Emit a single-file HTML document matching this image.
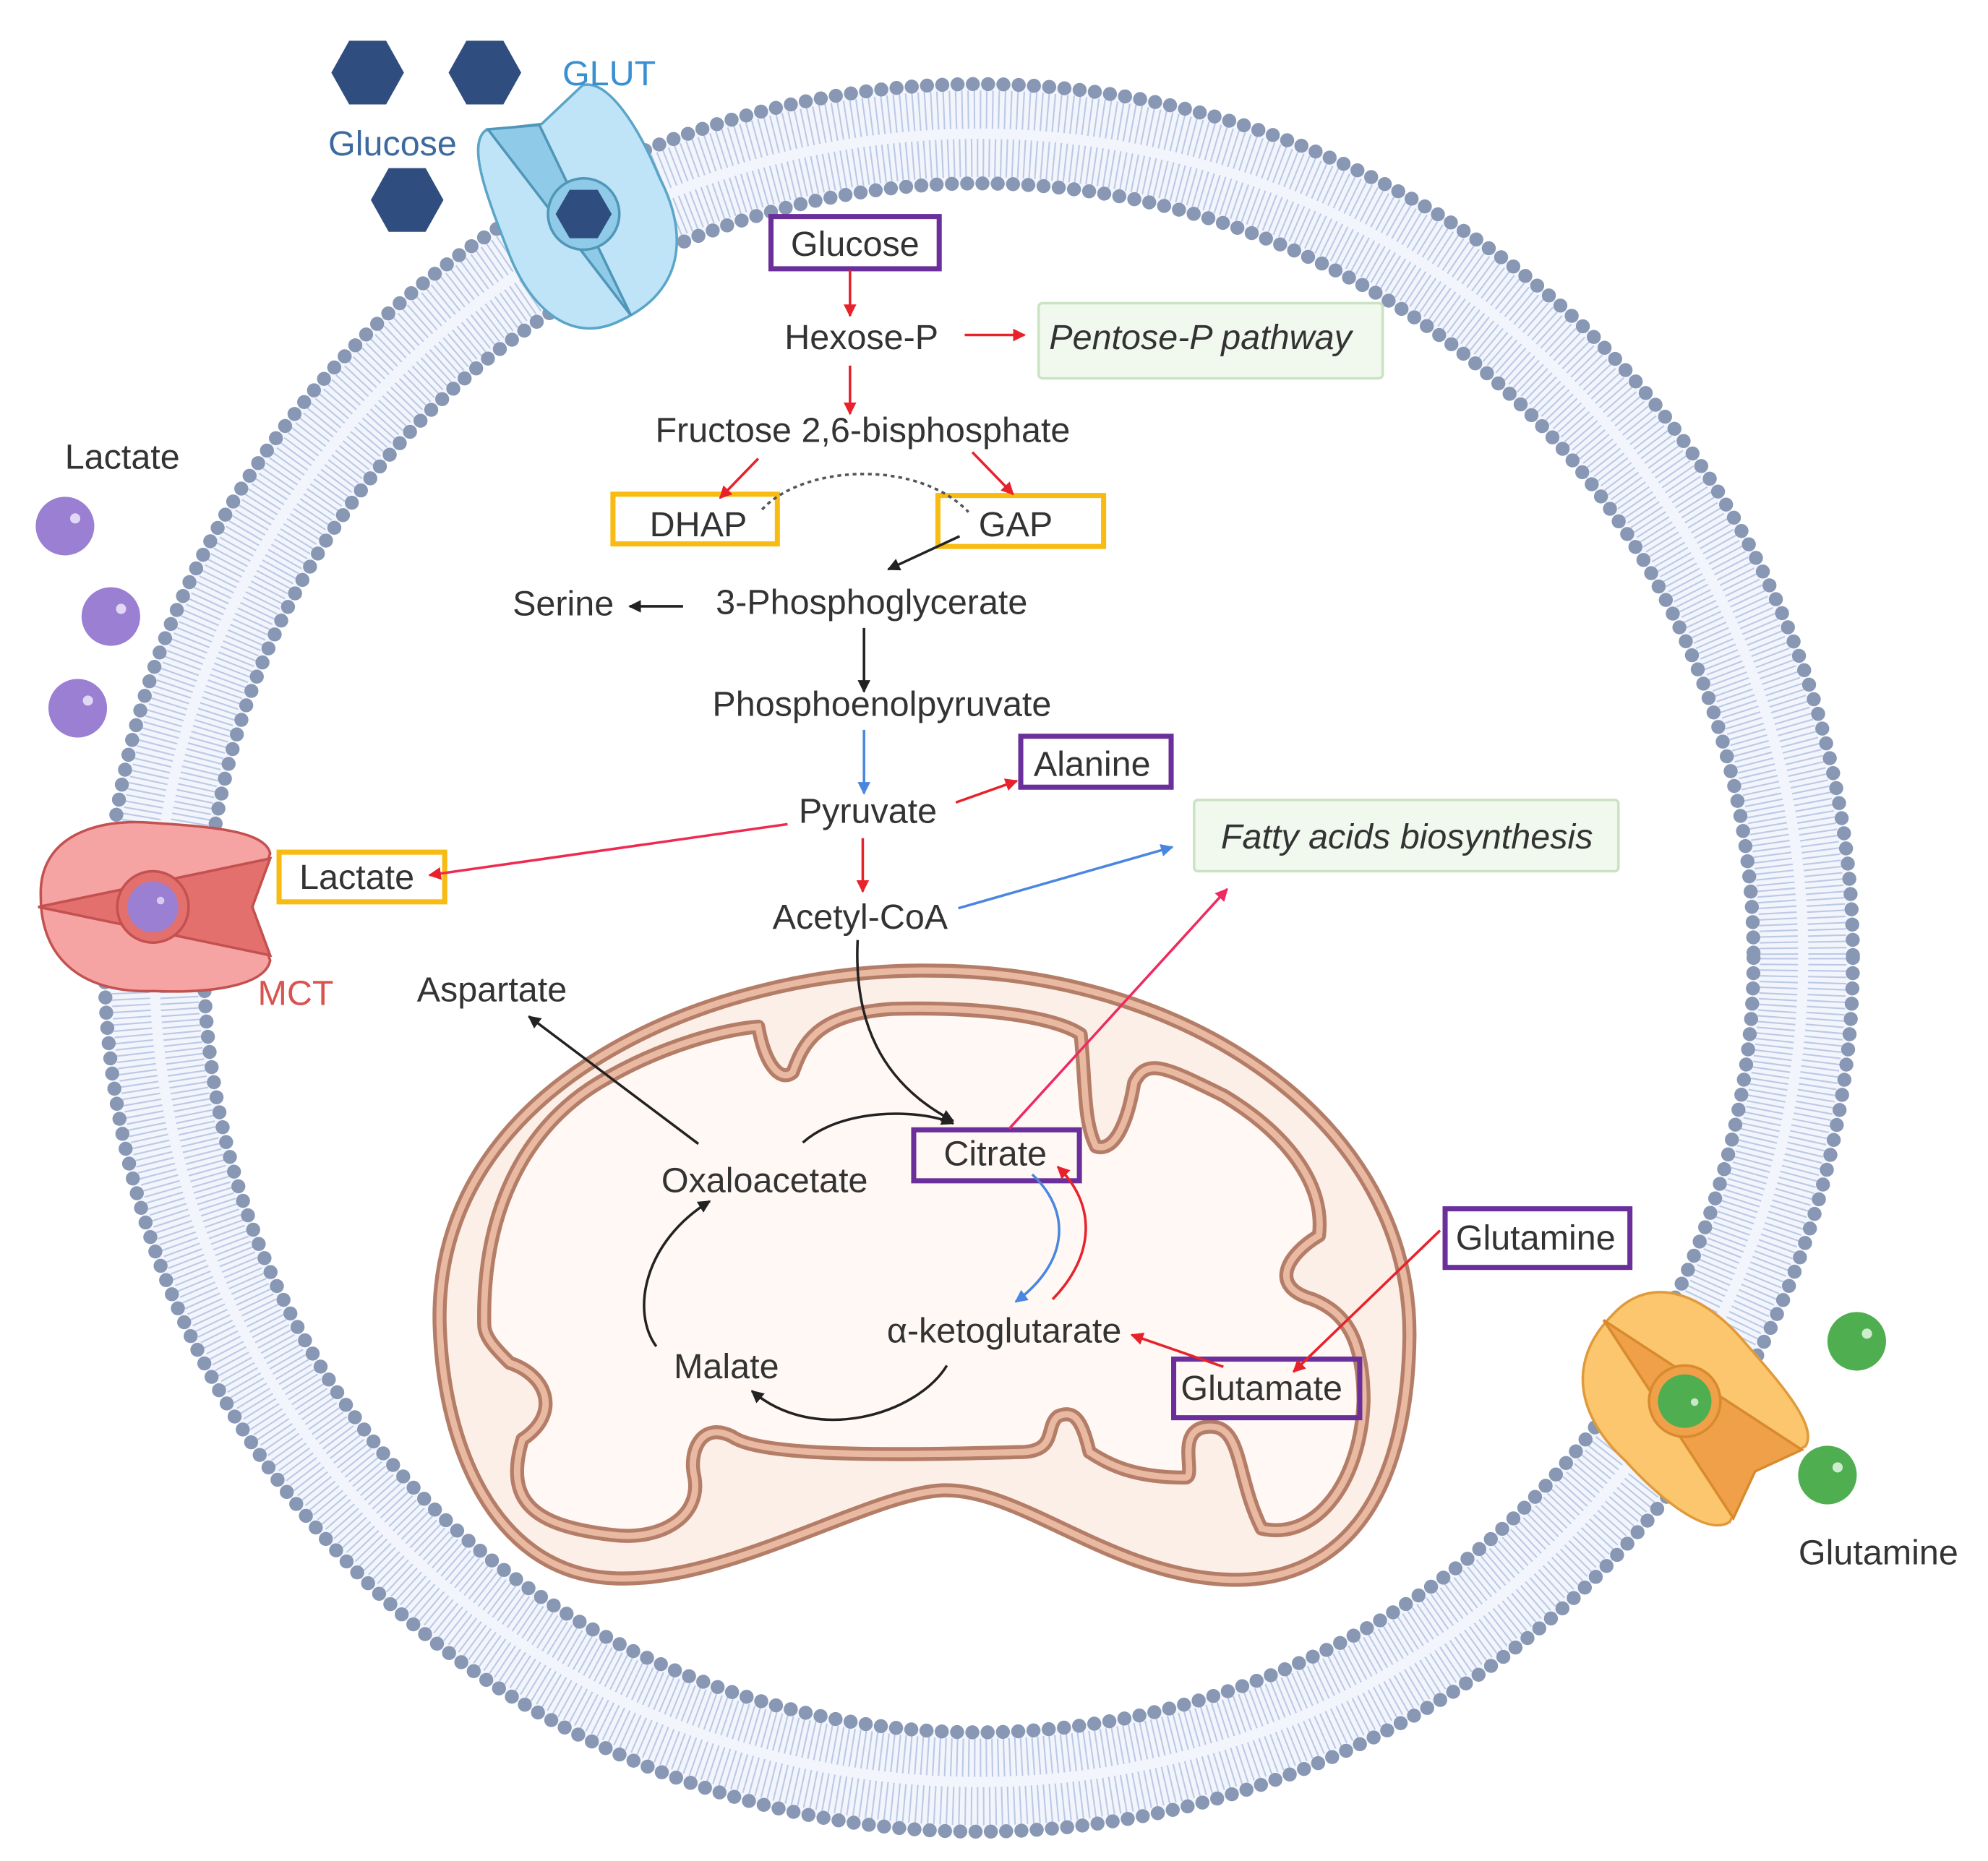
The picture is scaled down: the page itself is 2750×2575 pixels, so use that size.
<!DOCTYPE html>
<html><head><meta charset="utf-8"><style>
html,body{margin:0;padding:0;background:#fff;}
svg{display:block;}
text{font-family:"Liberation Sans",sans-serif;font-size:27.5px;fill:#333;}
</style></head><body>
<svg width="2750" height="2575" viewBox="0 0 1560 1461" preserveAspectRatio="none" xmlns="http://www.w3.org/2000/svg">
<defs>
<marker id="ar" viewBox="0 0 10 10" refX="9" refY="5" markerWidth="5" markerHeight="5" orient="auto"><path d="M0,0 L10,5 L0,10 z" fill="#e8212a"/></marker>
<marker id="ak" viewBox="0 0 10 10" refX="9" refY="5" markerWidth="5" markerHeight="5" orient="auto"><path d="M0,0 L10,5 L0,10 z" fill="#222"/></marker>
<marker id="ab" viewBox="0 0 10 10" refX="9" refY="5" markerWidth="5" markerHeight="5" orient="auto"><path d="M0,0 L10,5 L0,10 z" fill="#4a86e0"/></marker>
<marker id="ap" viewBox="0 0 10 10" refX="9" refY="5" markerWidth="5" markerHeight="5" orient="auto"><path d="M0,0 L10,5 L0,10 z" fill="#ee2a60"/></marker>
<g id="tp">
<path d="M-88,-8 C-90,-55 -45,-70 0,-66 C45,-63 88,-60 92,-42 L78,0 L92,42 C88,62 45,68 0,66 C-50,68 -88,45 -88,-8 Z"/>
</g>
</defs>
<!-- cell membrane -->
<circle cx="768" cy="752" r="647" fill="none" stroke="#f2f5fb" stroke-width="80"/>
<circle cx="768" cy="752" r="666" fill="none" stroke="#bcc9e6" stroke-width="30" stroke-dasharray="1.2 3.6"/>
<circle cx="768" cy="752" r="628" fill="none" stroke="#bcc9e6" stroke-width="30" stroke-dasharray="1.2 3.4"/>
<circle cx="768" cy="752" r="686" fill="none" stroke="#8797b4" stroke-width="11" stroke-linecap="round" stroke-dasharray="0 12"/>
<circle cx="768" cy="752" r="608" fill="none" stroke="#8797b4" stroke-width="11" stroke-linecap="round" stroke-dasharray="0 12"/>

<!-- mitochondrion -->
<path d="M345,1040 C340,850 560,760 730,762 C930,762 1108,880 1106,1050 C1104,1180 1050,1245 960,1240 C870,1235 800,1168 740,1170 C680,1172 560,1250 470,1238 C390,1228 348,1140 345,1040 Z" fill="#fcefe8" stroke="#b47d68" stroke-width="11"/>
<path d="M345,1040 C340,850 560,760 730,762 C930,762 1108,880 1106,1050 C1104,1180 1050,1245 960,1240 C870,1235 800,1168 740,1170 C680,1172 560,1250 470,1238 C390,1228 348,1140 345,1040 Z" fill="none" stroke="#e9b9a2" stroke-width="5"/>
<path d="M380,1040 C378,940 420,880 470,850 C520,820 570,808 595,806 C600,835 612,850 622,842 C630,820 640,796 700,792 C780,790 830,800 848,812 C852,850 850,880 860,900 C875,905 885,880 890,850 C900,830 915,838 960,860 C1010,890 1040,930 1035,970 C1010,985 995,1010 1030,1020 C1055,1030 1070,1050 1070,1100 C1068,1160 1035,1210 990,1200 C970,1160 975,1120 950,1120 C920,1120 940,1160 930,1160 C890,1160 870,1150 855,1140 C850,1120 845,1105 830,1112 C820,1120 830,1140 800,1140 C720,1142 600,1145 575,1128 C550,1115 540,1140 545,1160 C550,1190 520,1210 480,1205 C420,1198 395,1180 410,1130 C440,1110 430,1080 400,1070 C390,1060 380,1050 380,1040 Z" fill="#fff8f5" stroke="#b47d68" stroke-width="11" stroke-linejoin="round"/>
<path d="M380,1040 C378,940 420,880 470,850 C520,820 570,808 595,806 C600,835 612,850 622,842 C630,820 640,796 700,792 C780,790 830,800 848,812 C852,850 850,880 860,900 C875,905 885,880 890,850 C900,830 915,838 960,860 C1010,890 1040,930 1035,970 C1010,985 995,1010 1030,1020 C1055,1030 1070,1050 1070,1100 C1068,1160 1035,1210 990,1200 C970,1160 975,1120 950,1120 C920,1120 940,1160 930,1160 C890,1160 870,1150 855,1140 C850,1120 845,1105 830,1112 C820,1120 830,1140 800,1140 C720,1142 600,1145 575,1128 C550,1115 540,1140 545,1160 C550,1190 520,1210 480,1205 C420,1198 395,1180 410,1130 C440,1110 430,1080 400,1070 C390,1060 380,1050 380,1040 Z" fill="none" stroke="#e9b9a2" stroke-width="5"/>

<!-- transporters -->
<g transform="translate(458,168) rotate(-115)">
<use href="#tp" fill="#bfe4f7" stroke="#5aa5c8" stroke-width="2"/>
<path d="M-88,0 L78,-2 L92,-40 L-88,0 Z" fill="#8fcbe8" stroke="#4f96b8" stroke-width="2"/>
<circle r="28" fill="#8fcbe8" stroke="#4f96b8" stroke-width="2"/>
<polygon points="22,0 11,19 -11,19 -22,0 -11,-19 11,-19" fill="#2f4d7e" transform="rotate(115)"/>
</g>
<g transform="translate(120,712)">
<use href="#tp" fill="#f6a3a3" stroke="#c2514f" stroke-width="2"/>
<path d="M-90,0 L92,-38 L78,0 L92,38 Z" fill="#e4706e" stroke="#c2514f" stroke-width="2"/>
<circle r="28" fill="#e4706e" stroke="#c2514f" stroke-width="2"/>
<circle r="20" fill="#9a7fd3"/><circle cx="6" cy="-5" r="3" fill="#d6ccf0"/>
</g>
<g transform="translate(1322,1100) rotate(45)">
<use href="#tp" fill="#fcc66e" stroke="#e09a3a" stroke-width="2"/>
<path d="M-90,0 L92,-38 L78,0 L92,38 Z" fill="#efa049" stroke="#d88a2e" stroke-width="2"/>
<circle r="28" fill="#efa049" stroke="#d88a2e" stroke-width="2"/>
<circle r="21" fill="#4fae4f"/><circle cx="6" cy="-5" r="3" fill="#c8e8c8"/>
</g>

<!-- glucose hexagons -->
<g fill="#2f4d7e">
<polygon points="317,57 303,82 274,82 260,57 274,32 303,32"/>
<polygon points="409,57 395,82 366,82 352,57 366,32 395,32"/>
<polygon points="348,157 334,182 305,182 291,157 305,132 334,132"/>
</g>
<g fill="#9a7fd3"><circle cx="51" cy="413" r="23"/><circle cx="87" cy="484" r="23"/><circle cx="61" cy="556" r="23"/></g>
<g fill="#e0d8f5"><circle cx="59" cy="407" r="4"/><circle cx="95" cy="478" r="4"/><circle cx="69" cy="550" r="4"/></g>
<g fill="#4fae4f"><circle cx="1457" cy="1053" r="23"/><circle cx="1434" cy="1158" r="23"/></g>
<g fill="#d0ecd0"><circle cx="1465" cy="1047" r="4"/><circle cx="1442" cy="1152" r="4"/></g>

<text x="478" y="67" text-anchor="middle" style="fill:#3a8fd0">GLUT</text>
<text x="308" y="122" text-anchor="middle" style="fill:#3d6a9e">Glucose</text>
<text x="96" y="368" text-anchor="middle">Lactate</text>
<text x="232" y="789" text-anchor="middle" style="fill:#d9534f">MCT</text>
<text x="1474" y="1228" text-anchor="middle">Glutamine</text>

<g fill="none" stroke-width="4">
<rect x="605" y="170" width="132" height="41" stroke="#6a2f9a"/>
<rect x="801" y="578" width="118" height="40" stroke="#6a2f9a"/>
<rect x="717" y="887" width="130" height="40" stroke="#6a2f9a"/>
<rect x="1134" y="949" width="145" height="46" stroke="#6a2f9a"/>
<rect x="921" y="1067" width="146" height="46" stroke="#6a2f9a"/>
<rect x="481" y="388" width="129" height="39" stroke="#f8bb12"/>
<rect x="736" y="389" width="130" height="40" stroke="#f8bb12"/>
<rect x="219" y="669" width="130" height="39" stroke="#f8bb12"/>
</g>
<rect x="815" y="238" width="270" height="59" rx="3" fill="#f1f8ee" stroke="#c9e3c3" stroke-width="2"/>
<rect x="937" y="628" width="333" height="56" rx="3" fill="#f1f8ee" stroke="#c9e3c3" stroke-width="2"/>

<g text-anchor="middle">
<text x="671" y="201">Glucose</text>
<text x="676" y="274">Hexose-P</text>
<text x="942" y="274" style="font-style:italic">Pentose-P pathway</text>
<text x="677" y="347">Fructose 2,6-bisphosphate</text>
<text x="548" y="421">DHAP</text>
<text x="797" y="421">GAP</text>
<text x="442" y="483">Serine</text>
<text x="684" y="482">3-Phosphoglycerate</text>
<text x="692" y="562">Phosphoenolpyruvate</text>
<text x="681" y="646">Pyruvate</text>
<text x="857" y="609">Alanine</text>
<text x="280" y="698">Lactate</text>
<text x="1104" y="666" style="font-style:italic">Fatty acids biosynthesis</text>
<text x="675" y="729">Acetyl-CoA</text>
<text x="386" y="786">Aspartate</text>
<text x="781" y="915">Citrate</text>
<text x="600" y="936">Oxaloacetate</text>
<text x="788" y="1054">α-ketoglutarate</text>
<text x="570" y="1082">Malate</text>
<text x="1205" y="981">Glutamine</text>
<text x="990" y="1099">Glutamate</text>
</g>

<g fill="none" stroke-width="2">
<line x1="667" y1="212" x2="667" y2="248" stroke="#e8212a" marker-end="url(#ar)"/>
<line x1="757" y1="263" x2="804" y2="263" stroke="#e8212a" marker-end="url(#ar)"/>
<line x1="667" y1="287" x2="667" y2="325" stroke="#e8212a" marker-end="url(#ar)"/>
<line x1="595" y1="360" x2="565" y2="391" stroke="#e8212a" marker-end="url(#ar)"/>
<line x1="763" y1="355" x2="795" y2="388" stroke="#e8212a" marker-end="url(#ar)"/>
<path d="M598,400 C630,365 720,360 760,402" stroke="#555" stroke-dasharray="3 3"/>
<line x1="753" y1="421" x2="697" y2="447" stroke="#222" marker-end="url(#ak)"/>
<line x1="536" y1="476" x2="494" y2="476" stroke="#222" marker-end="url(#ak)"/>
<line x1="678" y1="493" x2="678" y2="543" stroke="#222" marker-end="url(#ak)"/>
<line x1="678" y1="573" x2="678" y2="623" stroke="#4a86e0" marker-end="url(#ab)"/>
<line x1="750" y1="630" x2="798" y2="613" stroke="#e8212a" marker-end="url(#ar)"/>
<line x1="618" y1="647" x2="337" y2="687" stroke="#ee2a50" marker-end="url(#ar)"/>
<line x1="677" y1="658" x2="677" y2="700" stroke="#e8212a" marker-end="url(#ar)"/>
<line x1="752" y1="713" x2="920" y2="665" stroke="#4a86e0" marker-end="url(#ab)"/>
<line x1="792" y1="886" x2="963" y2="698" stroke="#ee2a60" marker-end="url(#ap)"/>
<line x1="548" y1="898" x2="415" y2="798" stroke="#222" marker-end="url(#ak)"/>
<path d="M673,738 C670,800 690,850 748,880" stroke="#222" marker-end="url(#ak)"/>
<path d="M630,897 C660,870 720,870 748,882" stroke="#222" marker-end="url(#ak)"/>
<path d="M810,922 C840,950 840,990 797,1022" stroke="#4a86e0" marker-end="url(#ab)"/>
<path d="M826,1020 C860,985 860,945 830,916" stroke="#e8212a" marker-end="url(#ar)"/>
<path d="M743,1072 C720,1110 640,1135 590,1092" stroke="#222" marker-end="url(#ak)"/>
<path d="M515,1057 C495,1030 505,975 557,943" stroke="#222" marker-end="url(#ak)"/>
<line x1="1130" y1="966" x2="1015" y2="1077" stroke="#e8212a" marker-end="url(#ar)"/>
<line x1="960" y1="1073" x2="888" y2="1048" stroke="#e8212a" marker-end="url(#ar)"/>
</g>
</svg>
</body></html>
